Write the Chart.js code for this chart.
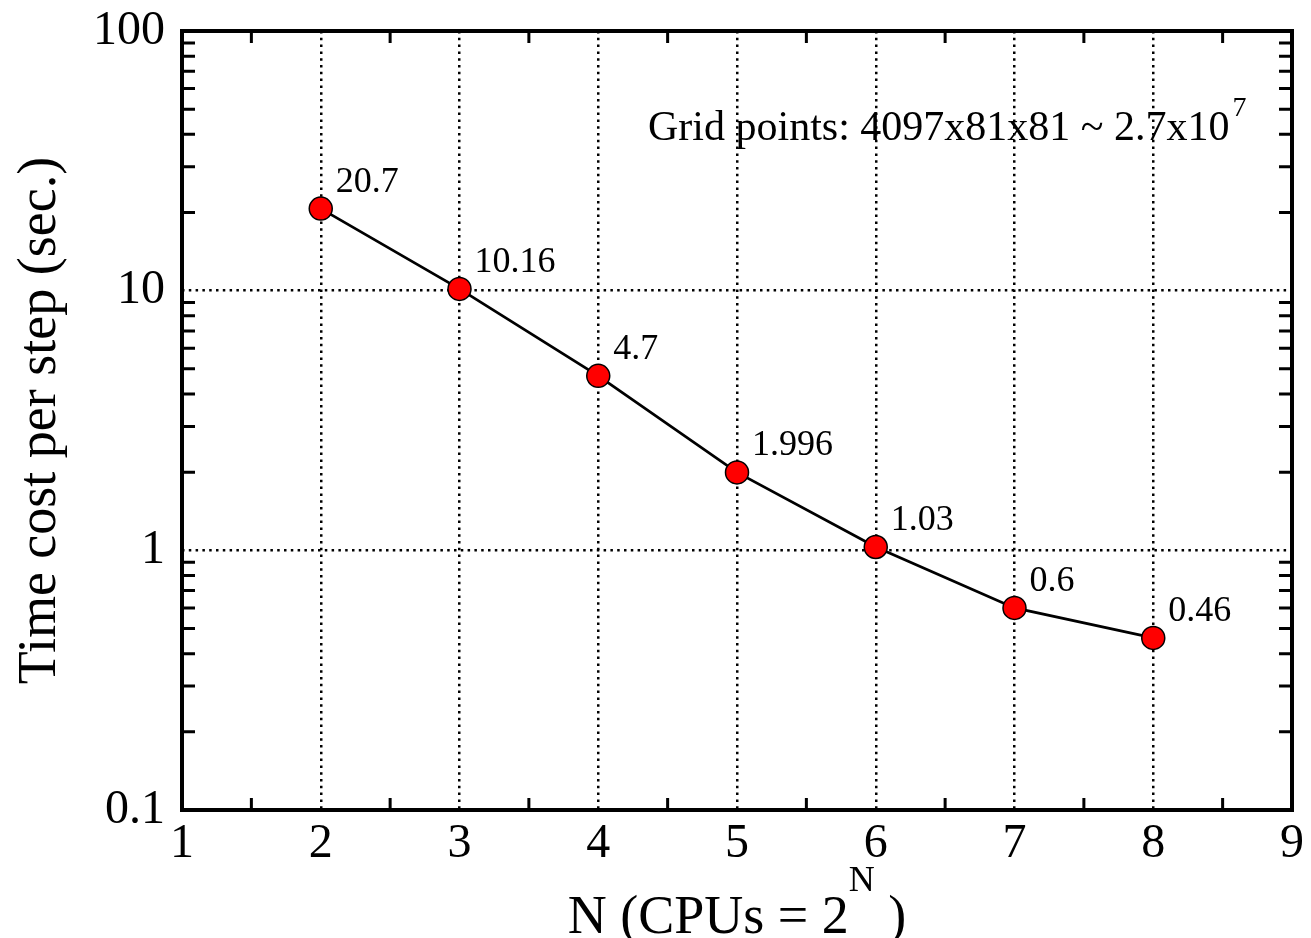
<!DOCTYPE html>
<html>
<head>
<meta charset="utf-8">
<title>Time cost per step</title>
<script src="https://cdn.jsdelivr.net/npm/chart.js@4.4.1/dist/chart.umd.min.js"></script>
<style>
  html, body { margin: 0; padding: 0; background: #fff; }
  #chart-wrap { width: 1311px; height: 938px; }
</style>
</head>
<body>
<div id="chart-wrap"><canvas id="time-chart" width="1311" height="938"></canvas></div>
<script>
// N (CPUs = 2^N)
const nValues = [2, 3, 4, 5, 6, 7, 8];
// temps par pas (sec.)
const timeCost = [20.7, 10.16, 4.7, 1.996, 1.03, 0.6, 0.46];
// graduations
const xTicks = [1, 2, 3, 4, 5, 6, 7, 8, 9];
const yDecades = [0.1, 1, 10, 100];
const yMinor = [2, 3, 4, 5, 6, 7, 8, 9];
// textes
const yTitle = "Time cost per step (sec.)";
const xTitle = "N (CPUs = 2";
const xTitleExp = "N";
const xTitleEnd = " )";
const gridNote = "Grid points: 4097x81x81 ~ 2.7x10";
const gridNoteExp = "7";

const SERIF = '"Liberation Serif", "Times New Roman", serif';

function isDecade(v) {
    return yDecades.some((d) => Math.abs(v / d - 1) < 1e-6);
}

// cadre, petites graduations, étiquettes et titres
const framePlugin = {
    id: "framePlugin",
    afterDraw(chart) {
        const ctx = chart.ctx;
        const { left, right, top, bottom } = chart.chartArea;
        const x = chart.scales.x;
        const y = chart.scales.y;

        ctx.save();
        ctx.strokeStyle = "#000";
        ctx.lineWidth = 3;
        ctx.beginPath();
        for (let i = 0; i < yDecades.length - 1; i++) {
            yMinor.forEach((m) => {
                const py = y.getPixelForValue(m * yDecades[i]);
                ctx.moveTo(left, py);
                ctx.lineTo(left + 13, py);
                ctx.moveTo(right, py);
                ctx.lineTo(right - 13, py);
            });
        }
        for (let i = 0; i < xTicks.length - 1; i++) {
            const px = x.getPixelForValue(xTicks[i] + 0.5);
            ctx.moveTo(px, bottom);
            ctx.lineTo(px, bottom - 12);
            ctx.moveTo(px, top);
            ctx.lineTo(px, top + 12);
        }
        ctx.stroke();

        ctx.lineWidth = 4;
        ctx.strokeRect(left, top, right - left, bottom - top);

        // valeurs à côté des points
        ctx.fillStyle = "#000";
        ctx.textAlign = "left";
        ctx.textBaseline = "alphabetic";
        ctx.font = "36px " + SERIF;
        chart.getDatasetMeta(0).data.forEach((pt, i) => {
            ctx.fillText(String(timeCost[i]), pt.x + 15, pt.y - 17);
        });

        // note
        ctx.font = "42px " + SERIF;
        const noteX = 648;
        const noteY = 140;
        ctx.fillText(gridNote, noteX, noteY);
        const noteW = ctx.measureText(gridNote).width;
        ctx.font = "28px " + SERIF;
        ctx.fillText(gridNoteExp, noteX + noteW + 3, noteY - 24);

        // titre de l'axe x
        ctx.font = "54px " + SERIF;
        const w1 = ctx.measureText(xTitle).width;
        const w3 = ctx.measureText(xTitleEnd).width;
        ctx.font = "36px " + SERIF;
        const w2 = ctx.measureText(xTitleExp).width;
        const startX = (left + right) / 2 - (w1 + w2 + w3) / 2;
        const baseY = 933;
        ctx.font = "54px " + SERIF;
        ctx.fillText(xTitle, startX, baseY);
        ctx.font = "36px " + SERIF;
        ctx.fillText(xTitleExp, startX + w1, baseY - 42);
        ctx.font = "54px " + SERIF;
        ctx.fillText(xTitleEnd, startX + w1 + w2, baseY);
        ctx.restore();
    }
};

const ctx = document.getElementById("time-chart").getContext("2d");

new Chart(ctx, {
    type: "line",
    data: {
        datasets: [{
            data: nValues.map((n, i) => ({ x: n, y: timeCost[i] })),
            borderColor: "#000",
            borderWidth: 2.8,
            pointRadius: 11.5,
            pointBackgroundColor: "#ff0000",
            pointBorderColor: "#000",
            pointBorderWidth: 1.5,
            tension: 0,
        }],
    },
    options: {
        responsive: false,
        animation: false,
        devicePixelRatio: 1,
        layout: { autoPadding: false, padding: { left: 0, top: 31, right: 19, bottom: 0 } },
        plugins: {
            legend: { display: false },
            tooltip: { enabled: false },
        },
        scales: {
            x: {
                type: "linear",
                min: 1,
                max: 9,
                afterFit: (scale) => { scale.height = 128; },
                afterBuildTicks: (scale) => {
                    scale.ticks = xTicks.map((v) => ({ value: v }));
                },
                ticks: {
                    color: "#000",
                    padding: 6,
                    font: { family: SERIF, size: 48 },
                    callback: (v) => String(v),
                },
                grid: {
                    drawTicks: false,
                    lineWidth: 2.5,
                    color: "#000",
                },
                border: { display: false, dash: [2.5, 4.3] },
            },
            y: {
                type: "logarithmic",
                min: 0.1,
                max: 100,
                afterFit: (scale) => {
                    scale.width = 182;
                    scale.paddingTop = 0;
                    scale.paddingBottom = 0;
                },
                ticks: {
                    color: "#000",
                    padding: 17,
                    autoSkip: false,
                    font: { family: SERIF, size: 48, lineHeight: 1 },
                    callback: (v) => (isDecade(v) ? String(v) : ""),
                },
                grid: {
                    drawTicks: false,
                    lineWidth: 2.5,
                    color: (c) => (c.tick && isDecade(c.tick.value) ? "#000" : "rgba(0,0,0,0)"),
                },
                border: { display: false, dash: [2.5, 4.3] },
                title: {
                    display: true,
                    text: yTitle,
                    color: "#000",
                    padding: { top: 8, bottom: 0 },
                    font: { family: SERIF, size: 54 },
                },
            },
        },
    },
    plugins: [framePlugin],
});
</script>
</body>
</html>
